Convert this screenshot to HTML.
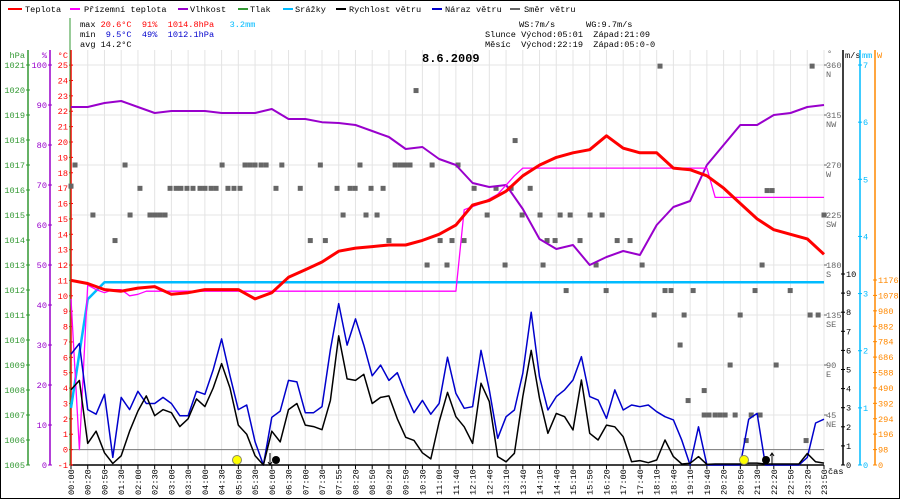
<!DOCTYPE html>
<html><head><meta charset="utf-8"><style>
html,body{margin:0;padding:0;background:#fff}
svg{display:block}
text{font-family:"Liberation Mono",monospace;font-size:8.6px;white-space:pre}
</style></head><body>
<svg id="chart" width="900" height="500" viewBox="0 0 900 500" xmlns="http://www.w3.org/2000/svg" xml:space="preserve">
<rect x="0.5" y="0.5" width="899" height="498" fill="#fff" stroke="#000"/>
<g id="grid"></g>
<g id="axes"></g>
<g id="series"></g>
<g>
 <line x1="8" y1="9" x2="22" y2="9" stroke="#f00" stroke-width="2"/><text x="25" y="12">Teplota</text>
 <line x1="70" y1="9" x2="80" y2="9" stroke="#f0f" stroke-width="2"/><text x="84" y="12">Přízemní teplota</text>
 <line x1="178" y1="9" x2="188" y2="9" stroke="#90c" stroke-width="2"/><text x="190" y="12">Vlhkost</text>
 <line x1="238" y1="9" x2="248" y2="9" stroke="#393" stroke-width="2"/><text x="250" y="12">Tlak</text>
 <line x1="283" y1="9" x2="293" y2="9" stroke="#0bf" stroke-width="2"/><text x="295" y="12">Srážky</text>
 <line x1="336" y1="9" x2="346" y2="9" stroke="#000" stroke-width="2"/><text x="349" y="12">Rychlost větru</text>
 <line x1="432" y1="9" x2="442" y2="9" stroke="#00c" stroke-width="2"/><text x="445" y="12">Náraz větru</text>
 <line x1="510" y1="9" x2="520" y2="9" stroke="#666" stroke-width="2"/><text x="524" y="12">Směr větru</text>
</g>
<g>
 <text x="80" y="27">max <tspan fill="#f00">20.6°C  91%  1014.8hPa</tspan>   <tspan fill="#0bf">3.2mm</tspan></text>
 <text x="80" y="37">min  <tspan fill="#00c">9.5°C  49%  1012.1hPa</tspan></text>
 <text x="80" y="47">avg 14.2°C</text>
 <text x="519" y="27">WS:7m/s      WG:9.7m/s</text>
 <text x="485" y="37">Slunce Východ:05:01  Západ:21:09</text>
 <text x="485" y="47">Měsíc  Východ:22:19  Západ:05:0-0</text>
</g>
<text x="422" y="62" style="font-size:12px;font-weight:bold">8.6.2009</text>
</svg>
<script>
const timeLabels=["00:00","00:20","00:50","01:30","02:00","02:30","03:00","03:30","04:00","04:30","05:00","05:30","06:00","06:30","07:00","07:30","07:55","08:20","08:50","09:20","09:50","10:30","11:00","11:40","12:10","12:40","13:10","13:40","14:10","14:40","15:10","15:50","16:20","17:00","17:40","18:10","18:40","19:10","19:40","20:20","20:50","21:30","22:20","22:50","23:20","23:50"];
const temperature=[11.0,10.8,10.4,10.3,10.5,10.6,10.1,10.2,10.4,10.4,10.4,9.8,10.2,11.2,11.7,12.2,12.9,13.1,13.2,13.3,13.3,13.6,14.0,14.6,15.9,16.2,16.8,17.8,18.5,19.0,19.3,19.5,20.4,19.6,19.3,19.3,18.3,18.2,17.8,17.0,16.0,15.0,14.3,14.0,13.7,12.7];
const groundTemp=[9.8,0.0,10.7,10.4,10.2,10.4,10.4,10.0,10.1,10.3,10.3,10.3,10.3,10.3,10.3,10.3,10.3,10.3,10.3,10.3,10.3,10.3,10.3,10.3,10.3,10.3,10.3,10.3,10.3,10.3,10.3,10.3,10.3,10.3,10.3,10.3,10.3,10.3,10.3,10.3,10.3,10.3,10.3,10.3,10.3,10.3,10.3,15.6,15.8,16.0,16.3,16.6,17.2,17.8,18.3,18.3,18.3,18.3,18.3,18.3,18.3,18.3,18.3,18.3,18.3,18.3,18.3,18.3,18.3,18.3,18.3,18.3,18.3,18.3,18.3,18.3,18.3,16.4,16.4,16.4,16.4,16.4,16.4,16.4,16.4,16.4,16.4,16.4,16.4,16.4,16.4];
const humidity=[89.5,89.5,90.5,91,89.5,88,88.5,88.5,88.5,88,88,88,89,86.5,86.5,85.7,85.5,85,83.5,82,79,79.5,76.5,75,70.5,69.5,70,64,56.5,54,55,50,52,53.5,52.5,60,64.5,66,75,80,85,85,87.5,88,89.5,90];
const rain=[1.0,2.9,3.2,3.2,3.2,3.2,3.2,3.2,3.2,3.2,3.2,3.2,3.2,3.2,3.2,3.2,3.2,3.2,3.2,3.2,3.2,3.2,3.2,3.2,3.2,3.2,3.2,3.2,3.2,3.2,3.2,3.2,3.2,3.2,3.2,3.2,3.2,3.2,3.2,3.2,3.2,3.2,3.2,3.2,3.2,3.2];
const windSpeed=[3.94,4.43,1.13,1.77,0.64,0.08,0.48,1.77,2.82,3.62,2.58,2.9,2.74,2.01,2.42,3.46,3.06,4.03,5.31,4.03,2.09,1.61,0.48,0,1.77,1.21,2.9,3.22,2.09,2.01,1.85,3.38,6.76,4.51,4.43,4.75,3.22,3.54,3.62,2.42,1.45,1.29,0.64,0.32,2.25,3.8,
2.53,2.0,1.13,4.28,3.32,0.44,0.17,0.61,3.58,6.0,3.49,1.66,2.7,2.53,1.83,4.45,1.66,1.31,2.09,2.0,1.48,0.17,0.23,0.12,0.26,1.31,0.44,0.05,0.09,0.44,0.03,0.05,0.05,0.05,0.05,0.1,0.1,0.05,0.05,0.05,0.05,0.05,0.6,0.17,0.1];
const windGust=[5.8,6.36,2.9,2.66,3.7,0.4,3.54,2.9,3.86,3.22,3.22,3.54,3.22,2.58,2.58,3.86,3.7,4.99,6.6,4.67,2.9,3.14,1.21,0,2.5,2.82,4.43,4.35,2.74,2.74,3.06,6.04,8.45,6.28,7.65,6.28,4.67,5.23,4.43,4.83,3.7,2.74,3.38,2.66,3.22,5.64,
3.75,2.97,3.05,6.0,3.93,1.4,2.53,2.88,4.8,8.0,4.62,2.88,3.58,3.93,4.45,5.67,3.58,3.4,2.44,3.93,2.88,3.14,3.05,3.14,2.79,2.53,2.36,1.3,0,2.0,0,0,0,0,0,2.4,2.7,0,0,0,0,0,0.4,2.2,2.4];
const dirSlot=[0,0.24,1.31,2.63,3.23,3.53,4.12,4.72,5.02,5.32,5.62,5.92,6.28,6.57,6.93,7.29,7.71,8.01,8.37,8.67,9.03,9.38,9.74,10.1,10.4,10.7,11.0,11.36,11.66,12.25,12.6,13.7,14.3,14.9,15.2,15.9,16.26,16.68,16.98,17.27,17.63,17.93,18.29,18.65,19.0,19.37,19.67,19.96,20.26,20.62,21.28,21.58,22.06,22.47,22.77,23.13,23.49,24.09,24.87,25.4,25.94,26.3,26.54,26.96,27.44,28.03,28.21,28.45,28.93,29.23,29.59,29.83,30.42,31.02,31.38,31.74,31.98,32.64,33.41,34.13,34.85,35.2,35.5,35.86,36.4,36.64,36.88,37.18,37.84,37.84,38.13,38.49,38.79,39.09,39.39,39.69,39.99,40.35,40.65,40.88,41.18,41.3,41.6,41.9,42.14,42.98,43.93,44.17,44.29,44.65,45];
const dirDeg=[251,270,225,202,270,225,249,225,225,225,225,249,249,249,249,249,249,249,249,249,270,249,249,249,270,270,270,270,270,249,270,249,202,270,202,249,225,249,249,270,225,249,225,249,202,270,270,270,270,337,180,270,202,180,202,270,202,249,225,249,180,249,292,225,249,225,180,202,202,225,157,225,202,225,180,225,157,202,202,180,135,359,157,157,108,135,58,157,45,67,45,45,45,45,90,45,135,22,45,157,45,180,247,247,90,157,22,135,359,135,225];
const hpaTicks=[1005,1006,1007,1008,1009,1010,1011,1012,1013,1014,1015,1016,1017,1018,1019,1020,1021];
const humTicks=[0,10,20,30,40,50,60,70,80,90,100];
const tempTicks=[-1,0,1,2,3,4,5,6,7,8,9,10,11,12,13,14,15,16,17,18,19,20,21,22,23,24,25];
const dirTicks=[45,90,135,180,225,270,315,360];
const dirNames=["NE","E","SE","S","SW","W","NW","N"];
const msTicks=[0,1,2,3,4,5,6,7,8,9,10];
const mmTicks=[0,1,2,3,4,5,6,7];
const wTicks=[0,98,196,294,392,490,588,686,784,882,980,1078,1176];

const X0=71,X1=824,YB=465,YT=50;
const slotW=(X1-X0)/(timeLabels.length-1);
const xS=t=>X0+t*slotW;
const xK=(k,n)=>X0+k*(X1-X0)/(n-1);
const yTemp=v=>449.6-v*15.38;
const yHum=v=>YB-v*4;
const yHpa=v=>YB-(v-1005)*25;
const yMs=v=>YB-v*19.1;
const yMm=v=>YB-v*57.14;
const yW=v=>YB-v*(185/1176);
const yDir=v=>YB-v*400/360;
const NS="http://www.w3.org/2000/svg";
function mk(tag,attrs,parent){const e=document.createElementNS(NS,tag);for(const k in attrs)e.setAttribute(k,attrs[k]);parent.appendChild(e);return e;}
const grid=document.getElementById('grid'),axes=document.getElementById('axes'),ser=document.getElementById('series');

for(let d=0;d<=360;d+=45){const y=yDir(d);const l=mk('line',{x1:X0,y1:y,x2:X1,y2:y,stroke:'#e4e4e4'},grid);

}
timeLabels.forEach((lab,i)=>{const x=xS(i);const l=mk('line',{x1:x,y1:YT,x2:x,y2:YB,stroke:'#e4e4e4'},grid);


const tk=mk('line',{x1:x,y1:YB,x2:x,y2:YB+4,stroke:'#000'},axes);


const t=mk('text',{x:0,y:0,transform:`translate(${x+3},495) rotate(-90)`},axes);


t.textContent=lab;});
mk('line',{x1:X0,y1:yTemp(0),x2:X1,y2:yTemp(0),stroke:'#777'},grid);
mk('line',{x1:X0,y1:YB,x2:X1,y2:YB,stroke:'#000','stroke-width':1.5},axes);
let ct=mk('text',{x:828,y:474},axes);ct.textContent='čas';



function vAxis(x,top,color,ticks,yf,labX,anchor,title,titleX){
 const a=mk('line',{x1:x,y1:top,x2:x,y2:YB,stroke:color,'stroke-width':1.5},axes);
 
 
 ticks.forEach(v=>{const y=yf(v);mk('line',{x1:x-2,y1:y,x2:x+2,y2:y,stroke:color},axes);
 const t=mk('text',{x:labX,y:y+3,fill:color,'text-anchor':anchor},axes);
 
 
 t.textContent=v;});
 const tt=mk('text',{x:titleX,y:58,fill:color,'text-anchor':anchor},axes);
 
 
 tt.textContent=title;
}
vAxis(28,YT,'#393',hpaTicks,yHpa,25,'end','hPa',25);
vAxis(50,YT,'#90c',humTicks,yHum,47,'end','%',47);
vAxis(71,YT,'#f00',tempTicks,yTemp,68,'end','°C',68);
mk('line',{x1:70,y1:18,x2:70,y2:YB,stroke:'#393'},axes);
vAxis(843,YT,'#000',msTicks,yMs,846,'start','m/s',845);
vAxis(860,YT,'#0bf',mmTicks,yMm,863,'start','mm',862);
vAxis(875,YT,'#f80',wTicks,yW,878,'start','W',877);
dirTicks.forEach((d,i)=>{const y=yDir(d);mk('line',{x1:X1,y1:y,x2:X1+3,y2:y,stroke:'#666'},axes);
const t=mk('text',{x:826,y:y+3,fill:'#666'},axes);t.textContent=d;


const n=mk('text',{x:826,y:y+12,fill:'#666'},axes);n.textContent=dirNames[i];

});
let dg=mk('text',{x:827,y:56,fill:'#666'},axes);dg.textContent='°';

function line(arr,xf,yf,color,w,name){
 const pts=arr.map((v,i)=>xf(i,arr.length).toFixed(1)+','+yf(v).toFixed(1)).join(' ');
 const p=mk('polyline',{points:pts,fill:'none',stroke:color,'stroke-width':w,'stroke-linejoin':'round'},ser);
 
 
}
dirSlot.forEach((s,i)=>{const r=mk('rect',{x:xS(s)-2.5,y:yDir(dirDeg[i])-2.5,width:5,height:5,fill:'#666'},ser);

});
line(humidity,xK,yHum,'#90c',2,'humidity-line');
line(rain,xK,yMm,'#0bf',2.5,'rain-line');
line(groundTemp,xK,yTemp,'#f0f',1.3,'ground-temperature-line');
line(temperature,xK,yTemp,'#f00',3,'temperature-line');
line(windGust,xK,yMs,'#00c',1.5,'wind-gust-line');
line(windSpeed,xK,yMs,'#000',1.5,'wind-speed-line');

const mk2=(tag,a,name)=>{const e=mk(tag,a,ser);return e;};
mk2('circle',{cx:237,cy:460,r:4.5,fill:'#ff0',stroke:'#886'},'sunrise-marker');
mk2('circle',{cx:744,cy:460,r:4.5,fill:'#ff0',stroke:'#886'},'sunset-marker');
mk2('circle',{cx:276,cy:460,r:4,fill:'#000'},'moonset-marker');
mk2('circle',{cx:766,cy:460,r:4,fill:'#000'},'moonrise-marker');
mk2('path',{d:'M270 453 V465 M268 462 L270 465 L272 462',stroke:'#000',fill:'none'},'moonset-arrow');
mk2('path',{d:'M772 465 V453 M770 456 L772 453 L774 456',stroke:'#000',fill:'none'},'moonrise-arrow');
</script>
</body></html>
